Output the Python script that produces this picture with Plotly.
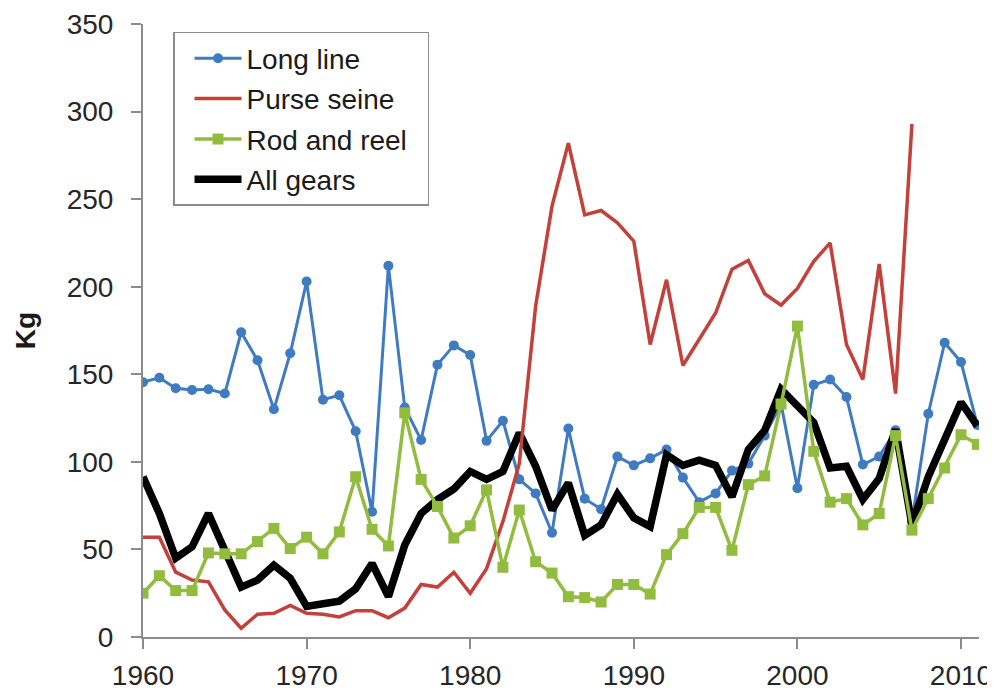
import plotly.graph_objects as go

years = list(range(1960, 2012))

long_line = [145.5, 148, 142, 141, 141.5, 139, 174, 158, 130, 162,
             203, 135.5, 138, 117.5, 71.5, 212, 131, 112.5, 155.5, 166.5,
             161, 112, 123.5, 90, 82, 59.5, 119, 79, 73, 103,
             98, 102, 107, 91, 77, 82, 95, 99, 115, 133,
             85, 144, 147, 137, 98.5, 103, 118, 66, 127.5, 168,
             157, 121]

purse_seine = [57, 57, 37, 32.5, 31.5, 15.5, 5, 13, 13.5, 18,
               13.5, 13, 11.5, 15, 15, 11, 16.5, 30, 28.5, 37,
               25, 39, 66, 99, 189, 246, 282, 241, 243.5, 236.5,
               226, 167, 204, 155, 170, 185, 210, 215, 196, 189.5,
               199, 214.5, 225, 167, 147, 213, 139, 293, None, None,
               None, None]

rod_and_reel = [25, 35, 26.5, 26.5, 48, 47.5, 47.5, 54.5, 62, 50.5,
                57, 47.5, 60, 91.5, 61.5, 52, 128, 90, 74.5, 56.5,
                63.5, 84, 39.8, 72.5, 43, 36.5, 23, 22.5, 20, 30,
                30, 24.5, 47, 59, 74, 74, 49.5, 87, 92, 133,
                177.5, 106, 77, 79, 64, 70.5, 115, 61, 79, 96.5,
                115.5, 110]

all_gears = [91.5, 70.5, 45, 51.5, 70.5, 49.5, 28.5, 32.5, 41, 33.5,
             17.5, 19, 20.5, 27.5, 42, 23, 52.5, 70.5, 78.5, 84.5,
             94.5, 90, 94.5, 116.5, 97.5, 72.5, 88, 58, 64, 81.5,
             68, 63, 104, 98, 101, 98, 80, 107, 118, 141.5,
             131.5, 122.5, 96.5, 97.5, 78.5, 90.5, 118.5, 64, 91.5, 114,
             134, 120.5]

x_ticks = [1960, 1970, 1980, 1990, 2000, 2010]
y_ticks = [0, 50, 100, 150, 200, 250, 300, 350]

FONT = "Liberation Sans, Arial, sans-serif"

fig = go.Figure()

fig.add_trace(go.Scatter(
    x=years, y=long_line, name="Long line", mode="lines+markers",
    line=dict(color="#3F7BC1", width=3),
    marker=dict(symbol="circle", size=10, color="#3F7BC1"),
    legendgroup="a", legendrank=1))

fig.add_trace(go.Scatter(
    x=years, y=all_gears, name="All gears", mode="lines",
    line=dict(color="#000000", width=7.5),
    legendgroup="d", legendrank=4))

fig.add_trace(go.Scatter(
    x=years, y=purse_seine, name="Purse seine", mode="lines",
    line=dict(color="#C4403A", width=3.5),
    legendgroup="b", legendrank=2))

fig.add_trace(go.Scatter(
    x=years, y=rod_and_reel, name="Rod and reel\u00a0\u00a0", mode="lines+markers",
    line=dict(color="#92BC3E", width=3.5),
    marker=dict(symbol="square", size=11, color="#92BC3E"),
    legendgroup="c", legendrank=3))

fig.update_layout(
    width=987, height=687,
    margin=dict(l=135, r=16, t=16.3, b=58.3, autoexpand=False),
    paper_bgcolor="white", plot_bgcolor="white",
    font=dict(family=FONT, size=28, color="#262626"),
    showlegend=True,
    legend=dict(
        x=0.0359, y=0.987, xanchor="left", yanchor="top",
        bordercolor="#8C8C8C", borderwidth=1.5,
        bgcolor="white",
        font=dict(family=FONT, size=28, color="#1A1A1A"),
        tracegroupgap=1, itemwidth=47, indentation=15,
    ),
    xaxis=dict(
        range=[1960, 2011.1], tickmode="array", tickvals=x_ticks,
        ticktext=[str(t) for t in x_ticks],
        showgrid=False, zeroline=False, showline=True,
        linecolor="#8C8C8C", linewidth=2,
        ticks="outside", ticklen=10, tickwidth=2, tickcolor="#8C8C8C",
        ticklabelstandoff=2,
    ),
    yaxis=dict(
        range=[0, 350], tickmode="array", tickvals=y_ticks,
        showgrid=False, zeroline=False, showline=True,
        linecolor="#8C8C8C", linewidth=2,
        ticks="outside", ticklen=10, tickwidth=2, tickcolor="#8C8C8C",
        ticklabelstandoff=12,
        title=dict(text="<b>Kg</b>", standoff=23,
                   font=dict(family=FONT, size=28, color="#1A1A1A")),
    ),
)

fig.write_html("out.html")
